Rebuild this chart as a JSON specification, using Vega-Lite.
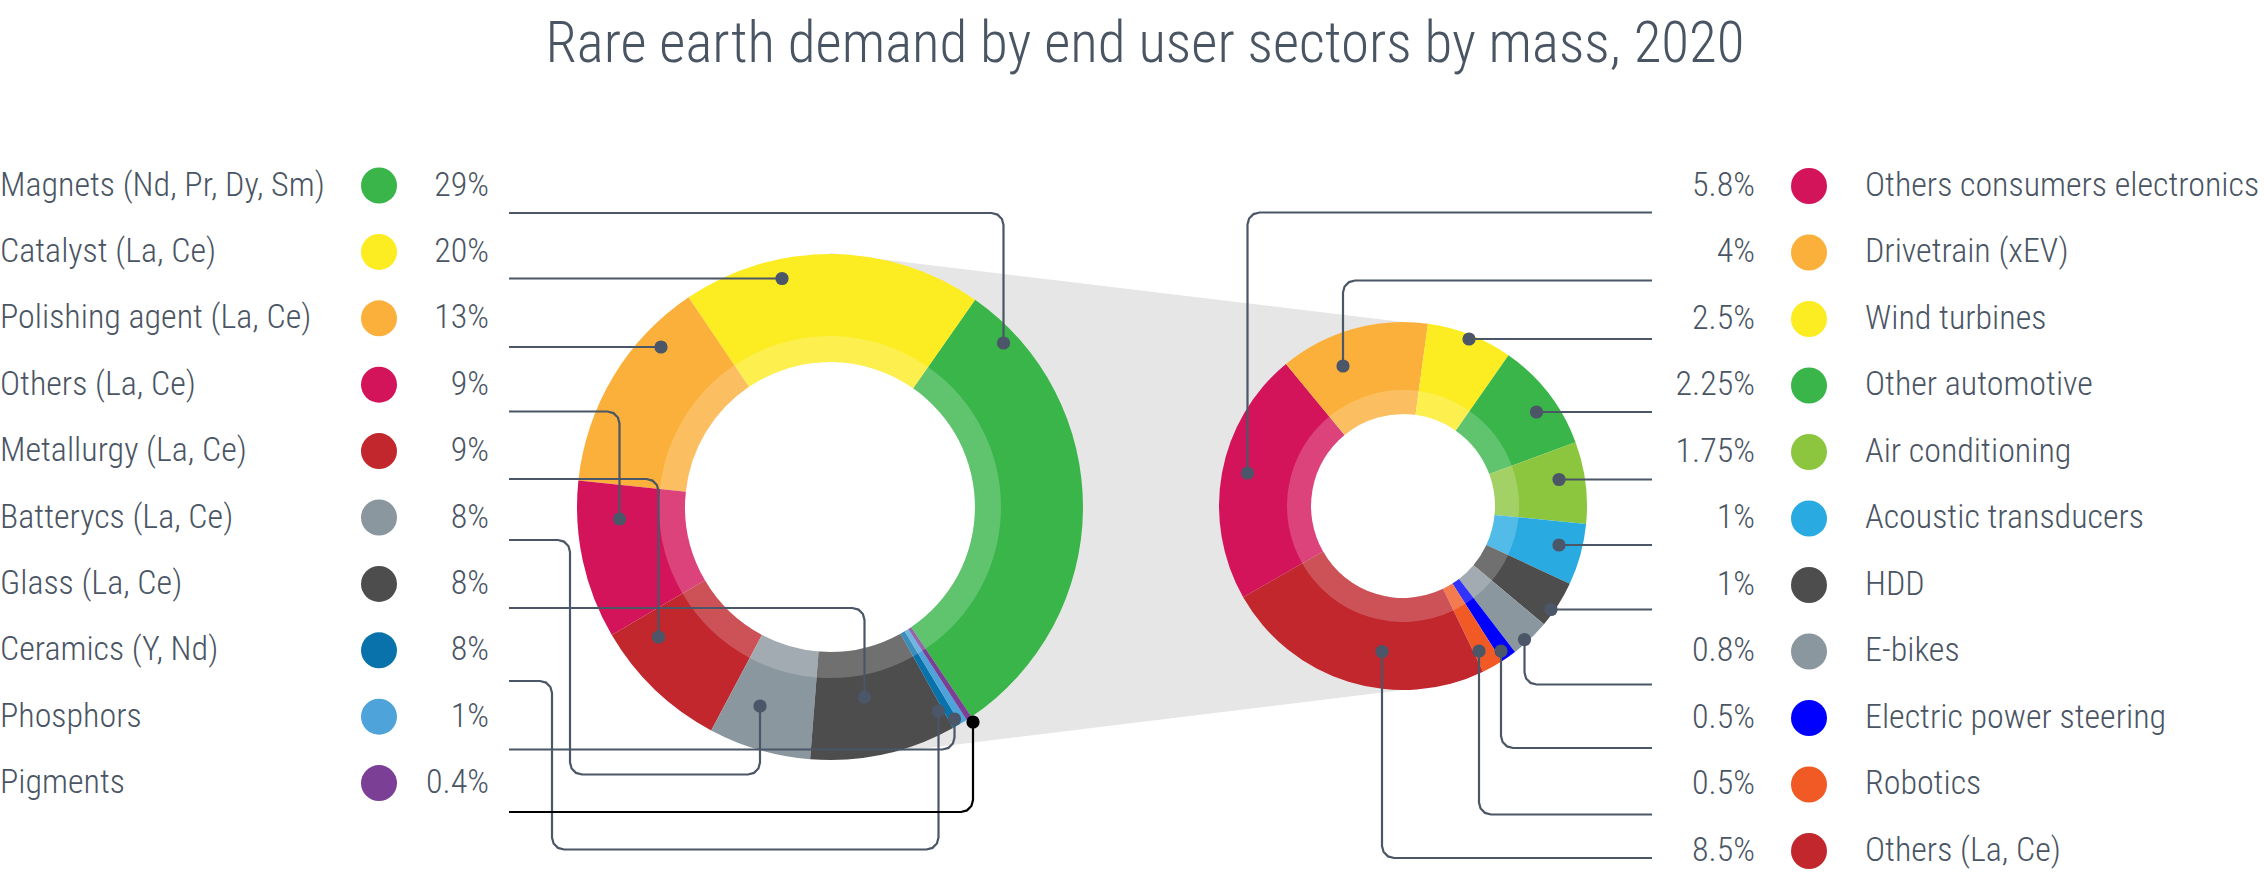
{
  "$schema": "https://vega.github.io/schema/vega-lite/v6.json",
  "width": 2265,
  "height": 876,
  "padding": 0,
  "autosize": {"type": "none"},
  "background": "white",
  "config": {
    "view": {"stroke": null},
    "text": {"font": "Roboto Condensed, DejaVu Sans Condensed, sans-serif", "fontWeight": 300, "color": "#4a5564"}
  },
  "datasets": {
    "left": [
      {"name": "Magnets (Nd, Pr, Dy, Sm)", "pct": "29%", "arc_deg": 111, "rank": 0, "ord": 0},
      {"name": "Catalyst (La, Ce)", "pct": "20%", "arc_deg": 69, "rank": 1, "ord": 9},
      {"name": "Polishing agent (La, Ce)", "pct": "13%", "arc_deg": 50, "rank": 2, "ord": 8},
      {"name": "Others (La, Ce)", "pct": "9%", "arc_deg": 36.4, "rank": 3, "ord": 7},
      {"name": "Metallurgy (La, Ce)", "pct": "9%", "arc_deg": 31.6, "rank": 4, "ord": 6},
      {"name": "Batterycs (La, Ce)", "pct": "8%", "arc_deg": 23.5, "rank": 5, "ord": 5},
      {"name": "Glass (La, Ce)", "pct": "8%", "arc_deg": 33.6, "rank": 6, "ord": 4},
      {"name": "Ceramics (Y, Nd)", "pct": "8%", "arc_deg": 1.9, "rank": 7, "ord": 3},
      {"name": "Phosphors", "pct": "1%", "arc_deg": 1.7, "rank": 8, "ord": 2},
      {"name": "Pigments", "pct": "0.4%", "arc_deg": 1.3, "rank": 9, "ord": 1}
    ],
    "right": [
      {"name": "Others consumers electronics", "pct": "5.8%", "arc_deg": 80.2, "rank": 0, "ord": 10},
      {"name": "Drivetrain (xEV)", "pct": "4%", "arc_deg": 47.3, "rank": 1, "ord": 0},
      {"name": "Wind turbines", "pct": "2.5%", "arc_deg": 27.2, "rank": 2, "ord": 1},
      {"name": "Other automotive", "pct": "2.25%", "arc_deg": 34.7, "rank": 3, "ord": 2},
      {"name": "Air conditioning", "pct": "1.75%", "arc_deg": 25.9, "rank": 4, "ord": 3},
      {"name": "Acoustic transducers", "pct": "1%", "arc_deg": 19.4, "rank": 5, "ord": 4},
      {"name": "HDD", "pct": "1%", "arc_deg": 15, "rank": 6, "ord": 5},
      {"name": "E-bikes", "pct": "0.8%", "arc_deg": 12.5, "rank": 7, "ord": 6},
      {"name": "Electric power steering", "pct": "0.5%", "arc_deg": 5, "rank": 8, "ord": 7},
      {"name": "Robotics", "pct": "0.5%", "arc_deg": 6.7, "rank": 9, "ord": 8},
      {"name": "Others (La, Ce)", "pct": "8.5%", "arc_deg": 86.1, "rank": 10, "ord": 9}
    ],
    "wedge": [
      {"x": 830, "top": 253, "bottom": 760},
      {"x": 1403, "top": 322, "bottom": 690}
    ],
    "holes": [
      {"hole": "left", "x": 830, "y": 507},
      {"hole": "right", "x": 1403, "y": 506}
    ],
    "leaders": [
      {"id": "Magnets", "seq": 0, "x": 509, "y": 213},
      {"id": "Magnets", "seq": 1, "x": 991.5, "y": 213},
      {"id": "Magnets", "seq": 2, "x": 997.5, "y": 214.6},
      {"id": "Magnets", "seq": 3, "x": 1001.9, "y": 219},
      {"id": "Magnets", "seq": 4, "x": 1003.5, "y": 225},
      {"id": "Magnets", "seq": 5, "x": 1003.5, "y": 343, "dot": 1},
      {"id": "Catalyst", "seq": 0, "x": 509, "y": 278.5},
      {"id": "Catalyst", "seq": 1, "x": 782, "y": 278.5, "dot": 1},
      {"id": "Polishing", "seq": 0, "x": 509, "y": 347},
      {"id": "Polishing", "seq": 1, "x": 661, "y": 347, "dot": 1},
      {"id": "OthersL", "seq": 0, "x": 509, "y": 411.5},
      {"id": "OthersL", "seq": 1, "x": 607.5, "y": 411.5},
      {"id": "OthersL", "seq": 2, "x": 613.5, "y": 413.1},
      {"id": "OthersL", "seq": 3, "x": 617.9, "y": 417.5},
      {"id": "OthersL", "seq": 4, "x": 619.5, "y": 423.5},
      {"id": "OthersL", "seq": 5, "x": 619.5, "y": 519, "dot": 1},
      {"id": "Metallurgy", "seq": 0, "x": 509, "y": 479},
      {"id": "Metallurgy", "seq": 1, "x": 646.5, "y": 479},
      {"id": "Metallurgy", "seq": 2, "x": 652.5, "y": 480.6},
      {"id": "Metallurgy", "seq": 3, "x": 656.9, "y": 485},
      {"id": "Metallurgy", "seq": 4, "x": 658.5, "y": 491},
      {"id": "Metallurgy", "seq": 5, "x": 658.5, "y": 637, "dot": 1},
      {"id": "Batteries", "seq": 0, "x": 509, "y": 540},
      {"id": "Batteries", "seq": 1, "x": 558, "y": 540},
      {"id": "Batteries", "seq": 2, "x": 564, "y": 541.6},
      {"id": "Batteries", "seq": 3, "x": 568.4, "y": 546},
      {"id": "Batteries", "seq": 4, "x": 570, "y": 552},
      {"id": "Batteries", "seq": 5, "x": 570, "y": 762.5},
      {"id": "Batteries", "seq": 6, "x": 571.6, "y": 768.5},
      {"id": "Batteries", "seq": 7, "x": 576, "y": 772.9},
      {"id": "Batteries", "seq": 8, "x": 582, "y": 774.5},
      {"id": "Batteries", "seq": 9, "x": 748, "y": 774.5},
      {"id": "Batteries", "seq": 10, "x": 754, "y": 772.9},
      {"id": "Batteries", "seq": 11, "x": 758.4, "y": 768.5},
      {"id": "Batteries", "seq": 12, "x": 760, "y": 762.5},
      {"id": "Batteries", "seq": 13, "x": 760, "y": 706, "dot": 1},
      {"id": "Glass", "seq": 0, "x": 509, "y": 608},
      {"id": "Glass", "seq": 1, "x": 852.5, "y": 608},
      {"id": "Glass", "seq": 2, "x": 858.5, "y": 609.6},
      {"id": "Glass", "seq": 3, "x": 862.9, "y": 614},
      {"id": "Glass", "seq": 4, "x": 864.5, "y": 620},
      {"id": "Glass", "seq": 5, "x": 864.5, "y": 697, "dot": 1},
      {"id": "Ceramics", "seq": 0, "x": 509, "y": 681},
      {"id": "Ceramics", "seq": 1, "x": 540, "y": 681},
      {"id": "Ceramics", "seq": 2, "x": 546, "y": 682.6},
      {"id": "Ceramics", "seq": 3, "x": 550.4, "y": 687},
      {"id": "Ceramics", "seq": 4, "x": 552, "y": 693},
      {"id": "Ceramics", "seq": 5, "x": 552, "y": 837.5},
      {"id": "Ceramics", "seq": 6, "x": 553.6, "y": 843.5},
      {"id": "Ceramics", "seq": 7, "x": 558, "y": 847.9},
      {"id": "Ceramics", "seq": 8, "x": 564, "y": 849.5},
      {"id": "Ceramics", "seq": 9, "x": 926.5, "y": 849.5},
      {"id": "Ceramics", "seq": 10, "x": 932.5, "y": 847.9},
      {"id": "Ceramics", "seq": 11, "x": 936.9, "y": 843.5},
      {"id": "Ceramics", "seq": 12, "x": 938.5, "y": 837.5},
      {"id": "Ceramics", "seq": 13, "x": 938.5, "y": 711, "dot": 1},
      {"id": "Phosphors", "seq": 0, "x": 509, "y": 749.5},
      {"id": "Phosphors", "seq": 1, "x": 942.5, "y": 749.5},
      {"id": "Phosphors", "seq": 2, "x": 948.5, "y": 747.9},
      {"id": "Phosphors", "seq": 3, "x": 952.9, "y": 743.5},
      {"id": "Phosphors", "seq": 4, "x": 954.5, "y": 737.5},
      {"id": "Phosphors", "seq": 5, "x": 954.5, "y": 719, "dot": 1},
      {"id": "Pigments", "seq": 0, "x": 509, "y": 812},
      {"id": "Pigments", "seq": 1, "x": 961, "y": 812},
      {"id": "Pigments", "seq": 2, "x": 967, "y": 810.4},
      {"id": "Pigments", "seq": 3, "x": 971.4, "y": 806},
      {"id": "Pigments", "seq": 4, "x": 973, "y": 800},
      {"id": "Pigments", "seq": 5, "x": 973, "y": 722, "dot": 1},
      {"id": "OthersCE", "seq": 0, "x": 1652, "y": 212.5},
      {"id": "OthersCE", "seq": 1, "x": 1259.5, "y": 212.5},
      {"id": "OthersCE", "seq": 2, "x": 1253.5, "y": 214.1},
      {"id": "OthersCE", "seq": 3, "x": 1249.1, "y": 218.5},
      {"id": "OthersCE", "seq": 4, "x": 1247.5, "y": 224.5},
      {"id": "OthersCE", "seq": 5, "x": 1247.5, "y": 473, "dot": 1},
      {"id": "Drivetrain", "seq": 0, "x": 1652, "y": 280.5},
      {"id": "Drivetrain", "seq": 1, "x": 1355, "y": 280.5},
      {"id": "Drivetrain", "seq": 2, "x": 1349, "y": 282.1},
      {"id": "Drivetrain", "seq": 3, "x": 1344.6, "y": 286.5},
      {"id": "Drivetrain", "seq": 4, "x": 1343, "y": 292.5},
      {"id": "Drivetrain", "seq": 5, "x": 1343, "y": 366, "dot": 1},
      {"id": "Wind", "seq": 0, "x": 1652, "y": 339},
      {"id": "Wind", "seq": 1, "x": 1469, "y": 339, "dot": 1},
      {"id": "OtherAuto", "seq": 0, "x": 1652, "y": 412},
      {"id": "OtherAuto", "seq": 1, "x": 1536.5, "y": 412, "dot": 1},
      {"id": "AC", "seq": 0, "x": 1652, "y": 479.5},
      {"id": "AC", "seq": 1, "x": 1559, "y": 479.5, "dot": 1},
      {"id": "Acoustic", "seq": 0, "x": 1652, "y": 545},
      {"id": "Acoustic", "seq": 1, "x": 1559, "y": 545, "dot": 1},
      {"id": "HDD", "seq": 0, "x": 1652, "y": 609.5},
      {"id": "HDD", "seq": 1, "x": 1551, "y": 609.5, "dot": 1},
      {"id": "Ebikes", "seq": 0, "x": 1652, "y": 684.5},
      {"id": "Ebikes", "seq": 1, "x": 1536.5, "y": 684.5},
      {"id": "Ebikes", "seq": 2, "x": 1530.5, "y": 682.9},
      {"id": "Ebikes", "seq": 3, "x": 1526.1, "y": 678.5},
      {"id": "Ebikes", "seq": 4, "x": 1524.5, "y": 672.5},
      {"id": "Ebikes", "seq": 5, "x": 1524.5, "y": 639.5, "dot": 1},
      {"id": "EPS", "seq": 0, "x": 1652, "y": 748},
      {"id": "EPS", "seq": 1, "x": 1513, "y": 748},
      {"id": "EPS", "seq": 2, "x": 1507, "y": 746.4},
      {"id": "EPS", "seq": 3, "x": 1502.6, "y": 742},
      {"id": "EPS", "seq": 4, "x": 1501, "y": 736},
      {"id": "EPS", "seq": 5, "x": 1501, "y": 651, "dot": 1},
      {"id": "Robotics", "seq": 0, "x": 1652, "y": 814.5},
      {"id": "Robotics", "seq": 1, "x": 1491, "y": 814.5},
      {"id": "Robotics", "seq": 2, "x": 1485, "y": 812.9},
      {"id": "Robotics", "seq": 3, "x": 1480.6, "y": 808.5},
      {"id": "Robotics", "seq": 4, "x": 1479, "y": 802.5},
      {"id": "Robotics", "seq": 5, "x": 1479, "y": 651, "dot": 1},
      {"id": "OthersR", "seq": 0, "x": 1652, "y": 858},
      {"id": "OthersR", "seq": 1, "x": 1394, "y": 858},
      {"id": "OthersR", "seq": 2, "x": 1388, "y": 856.4},
      {"id": "OthersR", "seq": 3, "x": 1383.6, "y": 852},
      {"id": "OthersR", "seq": 4, "x": 1382, "y": 846},
      {"id": "OthersR", "seq": 5, "x": 1382, "y": 651.5, "dot": 1}
    ]
  },
  "resolve": {"scale": {"y": "independent", "theta": "independent", "color": "independent", "size": "independent"}},
  "layer": [
    {
      "data": {"name": "wedge"},
      "mark": {"type": "area", "color": "#e6e6e6"},
      "encoding": {
        "x": {"field": "x", "type": "quantitative", "scale": {"domain": [0, 2265], "nice": false, "zero": false}, "axis": null},
        "y": {"field": "top", "type": "quantitative", "scale": {"domain": [0, 876], "reverse": true, "nice": false, "zero": false}, "axis": null},
        "y2": {"field": "bottom"}
      }
    },
    {
      "data": {"name": "holes"},
      "mark": {"type": "circle", "color": "white", "opacity": 1},
      "encoding": {
        "x": {"field": "x", "type": "quantitative", "scale": {"domain": [0, 2265], "nice": false, "zero": false}, "axis": null},
        "y": {"field": "y", "type": "quantitative", "scale": {"domain": [0, 876], "reverse": true, "nice": false, "zero": false}, "axis": null},
        "size": {"field": "hole", "type": "nominal", "legend": null, "scale": {"type": "ordinal", "domain": ["left", "right"], "range": [85264, 34596]}}
      }
    },
    {
      "data": {"name": "left"},
      "encoding": {
        "theta": {"field": "arc_deg", "type": "quantitative", "stack": true, "scale": {"range": [0.6109, 6.8941]}},
        "order": {"field": "ord"},
        "x": {"datum": 830, "type": "quantitative", "scale": {"domain": [0, 2265], "nice": false, "zero": false}, "axis": null},
        "y": {"datum": 507, "type": "quantitative", "scale": {"domain": [0, 876], "reverse": true, "nice": false, "zero": false}, "axis": null}
      },
      "layer": [
        {
          "mark": {"type": "arc", "radius": 253, "radius2": 145},
          "encoding": {
            "color": {"field": "name", "type": "nominal", "legend": null,
              "scale": {"domain": ["Magnets (Nd, Pr, Dy, Sm)", "Catalyst (La, Ce)", "Polishing agent (La, Ce)", "Others (La, Ce)", "Metallurgy (La, Ce)", "Batterycs (La, Ce)", "Glass (La, Ce)", "Ceramics (Y, Nd)", "Phosphors", "Pigments"],
                        "range": ["#39b54a", "#fcec22", "#fbb03b", "#d4145a", "#c1272d", "#8a979e", "#4d4d4d", "#0a72aa", "#4da3da", "#7b3f96"]}}
          }
        },
        {"mark": {"type": "arc", "radius": 171, "radius2": 145, "color": "white", "opacity": 0.2}}
      ]
    },
    {
      "data": {"name": "right"},
      "encoding": {
        "theta": {"field": "arc_deg", "type": "quantitative", "stack": true, "scale": {"range": [5.5938, 11.877]}},
        "order": {"field": "ord"},
        "x": {"datum": 1403, "type": "quantitative", "scale": {"domain": [0, 2265], "nice": false, "zero": false}, "axis": null},
        "y": {"datum": 506, "type": "quantitative", "scale": {"domain": [0, 876], "reverse": true, "nice": false, "zero": false}, "axis": null}
      },
      "layer": [
        {
          "mark": {"type": "arc", "radius": 184, "radius2": 92},
          "encoding": {
            "color": {"field": "name", "type": "nominal", "legend": null,
              "scale": {"domain": ["Others consumers electronics", "Drivetrain (xEV)", "Wind turbines", "Other automotive", "Air conditioning", "Acoustic transducers", "HDD", "E-bikes", "Electric power steering", "Robotics", "Others (La, Ce)"],
                        "range": ["#d4145a", "#fbb03b", "#fcec22", "#39b54a", "#8cc63f", "#29abe2", "#4d4d4d", "#8a979e", "#0000ff", "#f15a24", "#c1272d"]}}
          }
        },
        {"mark": {"type": "arc", "radius": 116, "radius2": 92, "color": "white", "opacity": 0.2}}
      ]
    },
    {
      "data": {"name": "leaders"},
      "mark": {"type": "line", "interpolate": "linear", "strokeWidth": 2.2},
      "encoding": {
        "x": {"field": "x", "type": "quantitative", "scale": {"domain": [0, 2265], "nice": false, "zero": false}, "axis": null},
        "y": {"field": "y", "type": "quantitative", "scale": {"domain": [0, 876], "reverse": true, "nice": false, "zero": false}, "axis": null},
        "detail": {"field": "id"},
        "order": {"field": "seq"},
        "color": {"condition": {"test": "datum.id === 'Pigments'", "value": "#000000"}, "value": "#4b5666"}
      }
    },
    {
      "data": {"name": "leaders"},
      "transform": [{"filter": "datum.dot === 1"}],
      "mark": {"type": "circle", "size": 175, "opacity": 1},
      "encoding": {
        "x": {"field": "x", "type": "quantitative", "scale": {"domain": [0, 2265], "nice": false, "zero": false}, "axis": null},
        "y": {"field": "y", "type": "quantitative", "scale": {"domain": [0, 876], "reverse": true, "nice": false, "zero": false}, "axis": null},
        "color": {"condition": {"test": "datum.id === 'Pigments'", "value": "#000000"}, "value": "#4b5768"}
      }
    },
    {
      "data": {"name": "left"},
      "encoding": {
        "y": {"field": "rank", "type": "quantitative", "scale": {"domain": [-2.7937, 10.399], "reverse": true, "nice": false, "zero": false}, "axis": null}
      },
      "layer": [
        {
          "mark": {"type": "text", "align": "left", "baseline": "middle", "fontSize": 34},
          "encoding": {
            "text": {"field": "name"},
            "x": {"datum": 0, "type": "quantitative", "scale": {"domain": [0, 2265], "nice": false, "zero": false}, "axis": null}
          }
        },
        {
          "mark": {"type": "circle", "size": 1296, "opacity": 1},
          "encoding": {
            "x": {"datum": 379, "type": "quantitative", "scale": {"domain": [0, 2265], "nice": false, "zero": false}, "axis": null},
            "color": {"field": "name", "type": "nominal", "legend": null,
              "scale": {"domain": ["Magnets (Nd, Pr, Dy, Sm)", "Catalyst (La, Ce)", "Polishing agent (La, Ce)", "Others (La, Ce)", "Metallurgy (La, Ce)", "Batterycs (La, Ce)", "Glass (La, Ce)", "Ceramics (Y, Nd)", "Phosphors", "Pigments"],
                        "range": ["#39b54a", "#fcec22", "#fbb03b", "#d4145a", "#c1272d", "#8a979e", "#4d4d4d", "#0a72aa", "#4da3da", "#7b3f96"]}}
          }
        },
        {
          "mark": {"type": "text", "align": "right", "baseline": "middle", "fontSize": 34},
          "encoding": {
            "text": {"field": "pct"},
            "x": {"datum": 489, "type": "quantitative", "scale": {"domain": [0, 2265], "nice": false, "zero": false}, "axis": null}
          }
        }
      ]
    },
    {
      "data": {"name": "right"},
      "encoding": {
        "y": {"field": "rank", "type": "quantitative", "scale": {"domain": [-2.797, 10.376], "reverse": true, "nice": false, "zero": false}, "axis": null}
      },
      "layer": [
        {
          "mark": {"type": "text", "align": "right", "baseline": "middle", "fontSize": 34},
          "encoding": {
            "text": {"field": "pct"},
            "x": {"datum": 1755, "type": "quantitative", "scale": {"domain": [0, 2265], "nice": false, "zero": false}, "axis": null}
          }
        },
        {
          "mark": {"type": "circle", "size": 1296, "opacity": 1},
          "encoding": {
            "x": {"datum": 1809, "type": "quantitative", "scale": {"domain": [0, 2265], "nice": false, "zero": false}, "axis": null},
            "color": {"field": "name", "type": "nominal", "legend": null,
              "scale": {"domain": ["Others consumers electronics", "Drivetrain (xEV)", "Wind turbines", "Other automotive", "Air conditioning", "Acoustic transducers", "HDD", "E-bikes", "Electric power steering", "Robotics", "Others (La, Ce)"],
                        "range": ["#d4145a", "#fbb03b", "#fcec22", "#39b54a", "#8cc63f", "#29abe2", "#4d4d4d", "#8a979e", "#0000ff", "#f15a24", "#c1272d"]}}
          }
        },
        {
          "mark": {"type": "text", "align": "left", "baseline": "middle", "fontSize": 34},
          "encoding": {
            "text": {"field": "name"},
            "x": {"datum": 1865, "type": "quantitative", "scale": {"domain": [0, 2265], "nice": false, "zero": false}, "axis": null}
          }
        }
      ]
    },
    {
      "data": {"values": [{"title": "Rare earth demand by end user sectors by mass, 2020"}]},
      "mark": {"type": "text", "align": "center", "baseline": "alphabetic", "fontSize": 57},
      "encoding": {
        "text": {"field": "title"},
        "x": {"datum": 1145, "type": "quantitative", "scale": {"domain": [0, 2265], "nice": false, "zero": false}, "axis": null},
        "y": {"datum": 62, "type": "quantitative", "scale": {"domain": [0, 876], "reverse": true, "nice": false, "zero": false}, "axis": null}
      }
    }
  ]
}
